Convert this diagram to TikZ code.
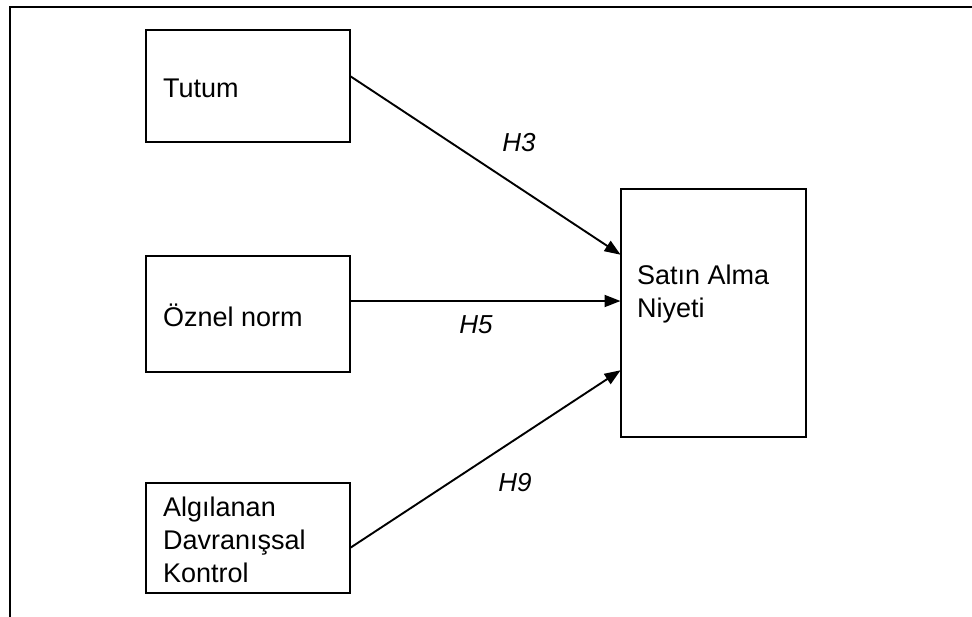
\documentclass[tikz,border=0pt]{standalone}
\usepackage{fontspec}
\setmainfont{Liberation Sans}
\usetikzlibrary{arrows.meta}
\begin{document}
\begin{tikzpicture}[x=1pt,y=-1pt,
  box/.style={draw, line width=2.6pt},
  lbl/.style={font=\fontsize{27}{33}\selectfont, align=left, anchor=west, inner sep=0pt},
  hyp/.style={font=\fontsize{26}{30}\selectfont\itshape, inner sep=0pt},
  link/.style={line width=1.9pt, -{Triangle[length=16pt,width=12pt]}, shorten >=0.5pt}]
  \useasboundingbox (0,0) rectangle (972,616);
  % outer frame, running off the right and bottom edges
  \draw[line width=2.6pt] (990,640) -- (10,640) -- (10,7) -- (990,7);

  % source boxes
  \node[box, minimum width=204pt, minimum height=112pt, inner sep=0pt] (tutum) at (248,86) {};
  \node[box, minimum width=204pt, minimum height=116pt, inner sep=0pt] (oznel) at (248,314) {};
  \node[box, minimum width=204pt, minimum height=110pt, inner sep=0pt] (algi) at (248,538) {};
  % target box
  \node[box, minimum width=185pt, minimum height=248pt, inner sep=0pt] (niyet) at (713.5,313) {};

  % box texts
  \node[lbl] (t1) at (163,88) {Tutum};
  \node[lbl] (t2) at (163,315) {Öznel norm};
  \node[lbl] (t3) at (163,540) {Algılanan\\Davranışsal\\Kontrol};
  \node[lbl] (t4) at (637,294) {Satın Alma\\Niyeti};

  % connectors
  \coordinate (a1) at (350,76);
  \coordinate (b1) at (621,255);
  \coordinate (a2) at (350,301);
  \coordinate (b2) at (621,301);
  \coordinate (a3) at (350,548);
  \coordinate (b3) at (621,370);
  \draw[link] (a1) -- (b1);
  \draw[link] (a2) -- (b2);
  \draw[link] (a3) -- (b3);

  % hypothesis labels
  \node[hyp] (h3) at (519,143) {H3};
  \node[hyp] (h5) at (476,325) {H5};
  \node[hyp] (h9) at (515,483) {H9};
\end{tikzpicture}
\end{document}
